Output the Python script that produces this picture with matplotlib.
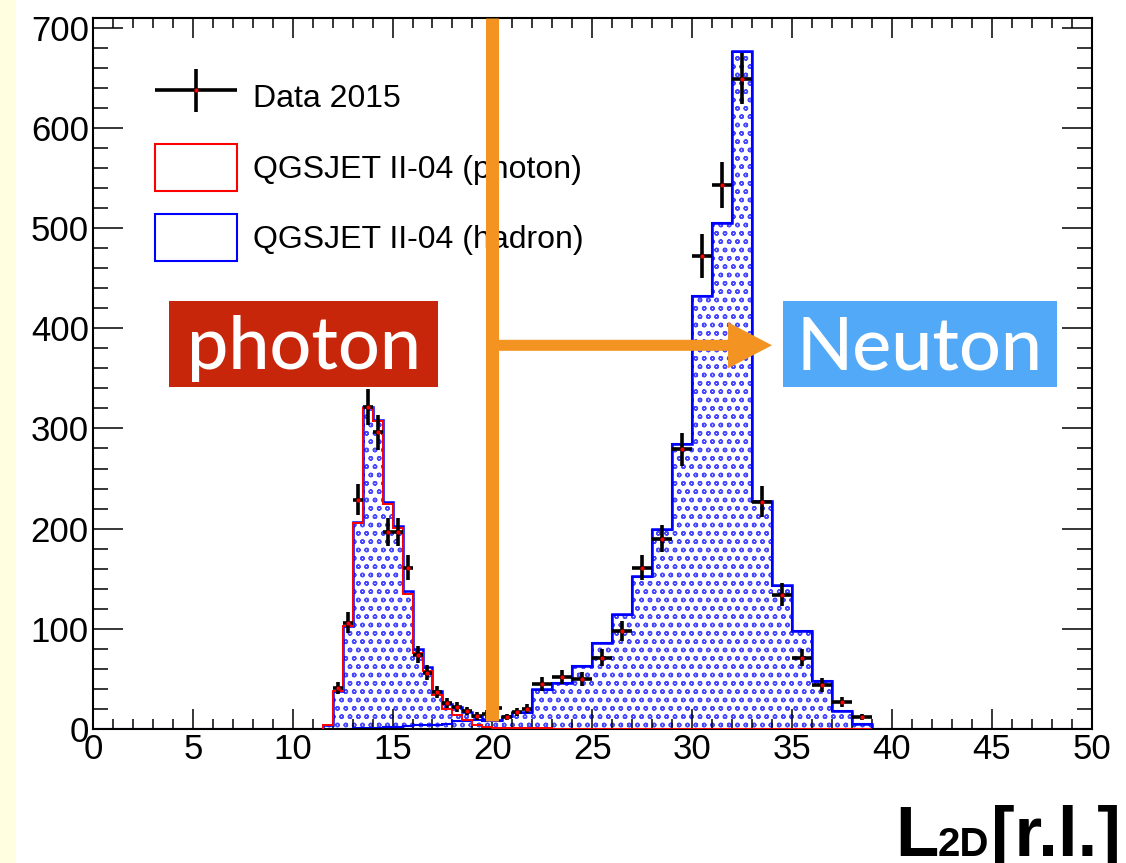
import numpy as np
import matplotlib.pyplot as plt
from matplotlib.patches import Patch, Rectangle, FancyArrow
from matplotlib.container import ErrorbarContainer
from matplotlib.legend_handler import HandlerErrorbar
from matplotlib.transforms import IdentityTransform

plt.rcParams['font.family'] = ['Liberation Sans', 'DejaVu Sans']
plt.rcParams['hatch.linewidth'] = 1.0

# binning: 0.5 wide from 11.5 to 22, 1.0 wide from 22 to 39
fine_edges = np.arange(11.5, 22.01, 0.5)
coarse_edges = np.arange(23, 39.01, 1.0)
edges = np.concatenate([[0.0], fine_edges, coarse_edges, [50.0]])

# MC photon / hadron and data, fine bins (11.5 ... 22)
photon_fine = [4, 38, 103, 206, 320, 307, 225, 201, 135, 76, 58, 34, 20, 14, 9, 4, 2, 1, 1, 0.5, 0.5]
hadron_fine = [0, 0, 0, 0.5, 1, 1, 1.5, 2, 3, 4, 4, 4, 5, 8, 8, 9, 8, 8, 12, 16, 16]
data_fine = [0, 41, 106, 229, 321, 296, 197, 197, 161, 74, 56, 37, 26, 22, 18, 13, 15, 21, 12, 17, 20]

# coarse bins (22 ... 39)
photon_coarse = [0.5, 0.3, 0.3, 0.3, 0.3, 0.3, 0.3, 0.3, 0.3, 0.3, 0.3, 0.3, 0.3, 0.3, 0.3, 0.3, 0.3]
hadron_coarse = [39, 46, 63, 86, 114, 152, 199, 284, 432, 505, 676, 227, 143, 98, 48, 18, 5]
data_coarse = [45, 52, 50, 71, 98, 161, 190, 279, 472, 543, 649, 227, 134, 71, 44, 27, 12]

labels = ['Data 2015', 'QGSJET II-04 (photon)', 'QGSJET II-04 (hadron)']

photon = np.array([0] + photon_fine + photon_coarse + [0], dtype=float)
hadron = np.array([0] + hadron_fine + hadron_coarse + [0], dtype=float)
data = np.array([0] + data_fine + data_coarse + [0], dtype=float)
total = photon + hadron

centers = 0.5 * (edges[:-1] + edges[1:])
halfw = 0.5 * np.diff(edges)
has = data > 0

orange = '#F39322'

fig = plt.figure(figsize=(11.26, 8.63), dpi=100)
fig.add_artist(Rectangle((0, 0), 16 / 1126, 1, transform=fig.transFigure,
                         facecolor='#FFFEE0', edgecolor='none', zorder=0))
ax = fig.add_axes([93 / 1126, 1 - 729 / 863, 998.5 / 1126, 711.3 / 863])

# stacked MC (hatched), outlines
ax.stairs(total, edges, fill=True, facecolor='white', edgecolor='#4848ff',
          hatch='oo', linewidth=0, zorder=1)
ax.stairs(hadron, edges, color='blue', lw=1.5, zorder=2)
ax.stairs(total, edges, color='blue', lw=1.8, zorder=2)
ax.stairs(photon[1:-1], edges[1:-1], color='red', lw=1.4, zorder=3)

# data points with sqrt(N) errors
eb = ax.errorbar(centers[has], data[has], xerr=halfw[has], yerr=np.sqrt(data[has]),
                 fmt='o', ms=2, mfc='red', mec='red', ecolor='black',
                 elinewidth=2.6, capsize=0, zorder=4)

ax.set_xlim(0, 50)
ax.set_ylim(0, 710)
ax.set_xticks(np.arange(0, 51, 5))
ax.set_xticks(np.arange(0, 51, 1), minor=True)
ax.set_yticks(np.arange(0, 701, 100))
ax.set_yticks(np.arange(0, 701, 20), minor=True)
ax.tick_params(which='both', direction='in', top=True, right=True, width=1.1,
               labelsize=25)
ax.tick_params(axis='x', which='major', length=14.4, pad=3)
ax.tick_params(axis='x', which='minor', length=7.2)
ax.tick_params(axis='y', which='major', length=21.6, pad=3)
ax.tick_params(axis='y', which='minor', length=10.8)
for s in ax.spines.values():
    s.set_linewidth(1.5)

handles = [eb,
           Patch(facecolor='white', edgecolor='red', lw=1.5),
           Patch(facecolor='white', edgecolor='blue', lw=1.5)]
ax.legend(handles, labels, loc='upper left',
          bbox_to_anchor=(155 / 1126, 1 - 73.5 / 863), bbox_transform=fig.transFigure,
          frameon=False, fontsize=23, borderpad=0, borderaxespad=0,
          handlelength=2.56, handleheight=1.9, handletextpad=0.5, labelspacing=0.72,
          handler_map={ErrorbarContainer: HandlerErrorbar(xerr_size=1.28, yerr_size=0.66)})

# orange divider and arrow
ax.plot([20, 20], [8, 710], color=orange, lw=9.4, solid_capstyle='butt', zorder=10)
ax.add_patch(FancyArrow(20, 383, 14, 0, width=11, head_width=46, head_length=2.2,
                        length_includes_head=True, color=orange, lw=0, zorder=10))

# category labels
ax.add_patch(Rectangle((3.8, 341), 13.5, 86, facecolor='#C8260A', edgecolor='none', zorder=11))
ax.text(10.55, 359, 'photon', color='white', fontsize=53, family=['Lato', 'DejaVu Sans'],
        fontweight='medium', ha='center', va='baseline', zorder=12)
ax.add_patch(Rectangle((34.55, 341), 13.72, 86, facecolor='#52A9F7', edgecolor='none', zorder=11))
ax.text(41.4, 359, 'Neuton', color='white', fontsize=53, family=['Lato', 'DejaVu Sans'],
        fontweight='medium', ha='center', va='baseline', zorder=12)

# axis title L_2D[r.l.], built right to left in pixel coordinates
renderer = fig.canvas.get_renderer()
px = IdentityTransform()
base_y = 863 - 856
t_unit = fig.text(1121, base_y, '[r.l.]', fontsize=51, fontweight='bold',
                  ha='right', va='baseline', transform=px)
x0 = t_unit.get_window_extent(renderer).x0
t_sub = fig.text(x0 - 2, base_y, '2D', fontsize=29, fontweight='bold',
                 ha='right', va='baseline', transform=px)
x0 = t_sub.get_window_extent(renderer).x0
fig.text(x0 + 1, base_y, 'L', fontsize=51, fontweight='bold',
         ha='right', va='baseline', transform=px)

fig.savefig('out.png', dpi=100)
